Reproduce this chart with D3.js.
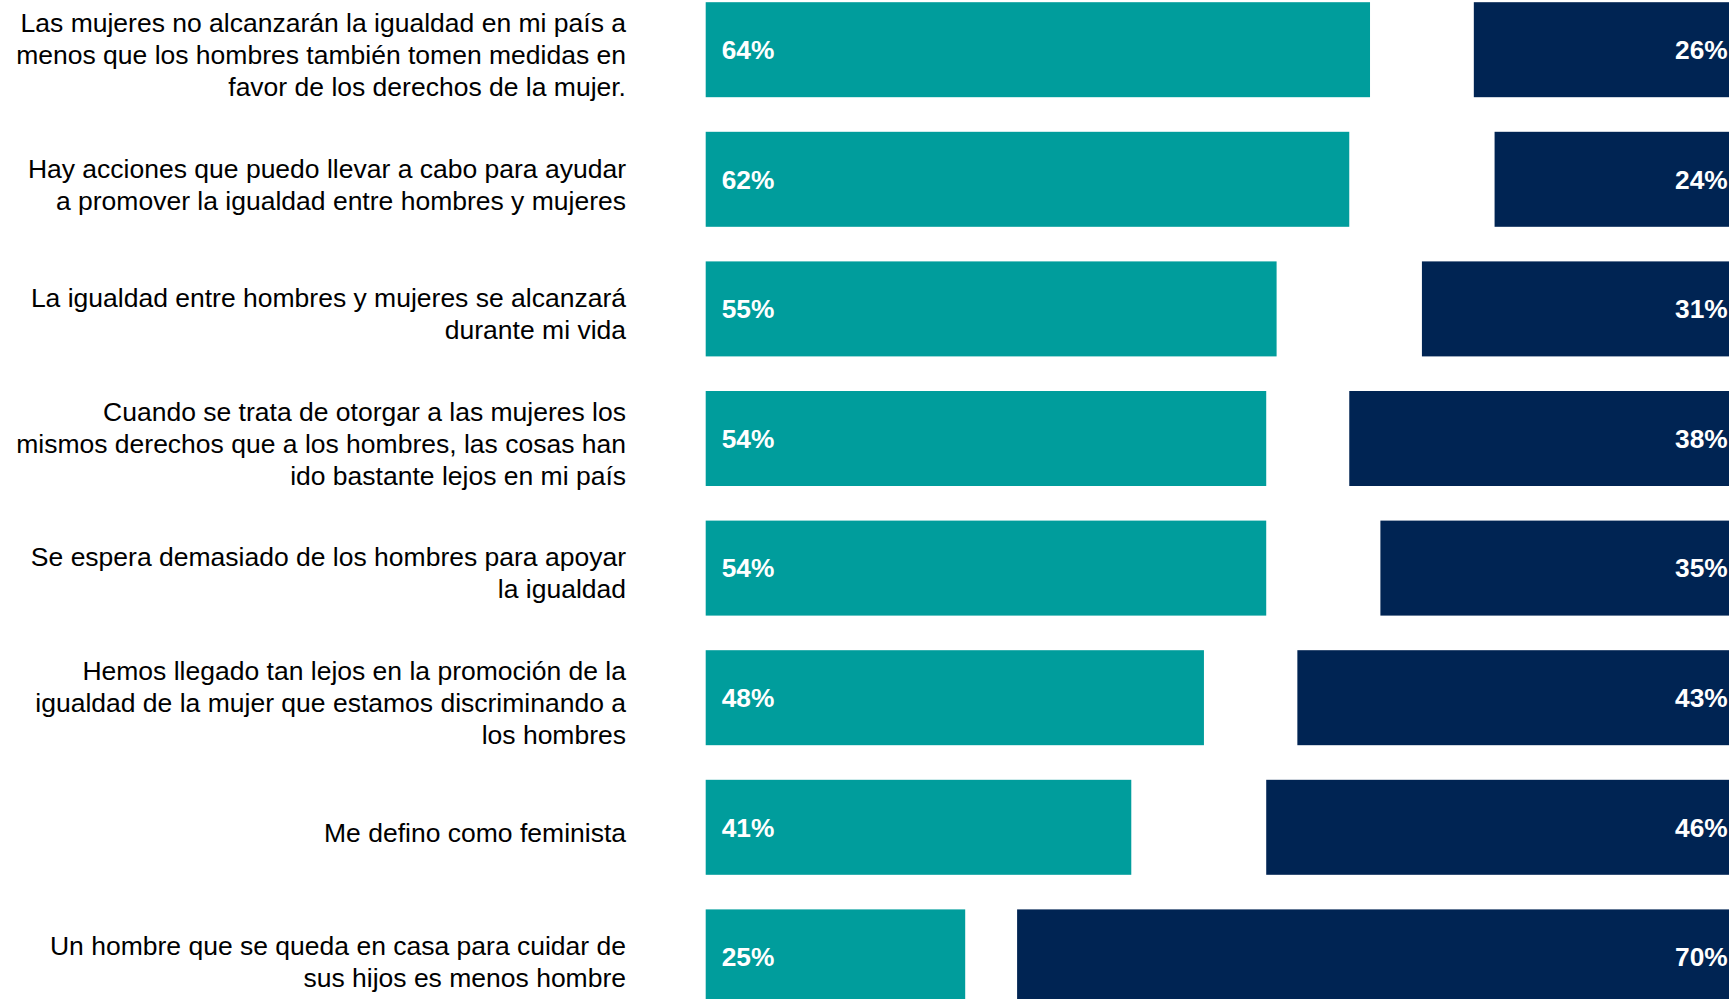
<!DOCTYPE html>
<html>
<head>
<meta charset="utf-8">
<script src="https://cdn.jsdelivr.net/npm/d3@7/dist/d3.min.js"></script>
<style>
  html, body { margin: 0; padding: 0; background: #ffffff; overflow: hidden; }
  svg { display: block; }
</style>
</head>
<body>
<svg id="chart" width="1729" height="999"></svg>
<script>
// ---- Data ----
const categories = [
  ["Las mujeres no alcanzarán la igualdad en mi país a", "menos que los hombres también tomen medidas en", "favor de los derechos de la mujer."],
  ["Hay acciones que puedo llevar a cabo para ayudar", "a promover la igualdad entre hombres y mujeres"],
  ["La igualdad entre hombres y mujeres se alcanzará", "durante mi vida"],
  ["Cuando se trata de otorgar a las mujeres los", "mismos derechos que a los hombres, las cosas han", "ido bastante lejos en mi país"],
  ["Se espera demasiado de los hombres para apoyar", "la igualdad"],
  ["Hemos llegado tan lejos en la promoción de la", "igualdad de la mujer que estamos discriminando a", "los hombres"],
  ["Me defino como feminista"],
  ["Un hombre que se queda en casa para cuidar de", "sus hijos es menos hombre"]
];
const agreeValues = [64, 62, 55, 54, 54, 48, 41, 25];
const disagreeValues = [26, 24, 31, 38, 35, 43, 46, 70];

// ---- Layout ----
const svg = d3.select("#chart");
const teal = "#009d9c";
const navy = "#002453";
const idx = categories.map((d, i) => i);

const x = d3.scaleLinear().domain([0, 100]).range([705.7, 1743.7]);
const step = 129.6;
const y = d3.scaleBand()
  .domain(idx)
  .range([2.2 - 0.1335 * step, 2.2 - 0.1335 * step + 8 * step])
  .paddingInner(0.267)
  .paddingOuter(0.1335);

const rows = svg.append("g").selectAll("g.row")
  .data(idx).join("g").attr("class", "row");

// agree bars (left-anchored)
rows.append("rect")
  .attr("x", x(0))
  .attr("y", i => y(i))
  .attr("width", i => x(agreeValues[i]) - x(0))
  .attr("height", y.bandwidth())
  .attr("fill", teal);

// disagree bars (right-anchored at 100)
rows.append("rect")
  .attr("x", i => x(100 - disagreeValues[i]))
  .attr("y", i => y(i))
  .attr("width", i => x(100) - x(100 - disagreeValues[i]))
  .attr("height", y.bandwidth())
  .attr("fill", navy);

const labelFont = "'Liberation Sans', Arial, Helvetica, sans-serif";

// agree value labels
rows.append("text")
  .attr("x", x(0) + 16)
  .attr("y", i => y(i) + y.bandwidth() / 2)
  .attr("dy", "0.35em")
  .attr("fill", "#ffffff")
  .attr("font-family", labelFont)
  .attr("font-weight", "bold")
  .attr("font-size", 26.3)
  .text(i => agreeValues[i] + "%");

// disagree value labels
rows.append("text")
  .attr("x", x(100) - 16)
  .attr("y", i => y(i) + y.bandwidth() / 2)
  .attr("dy", "0.35em")
  .attr("text-anchor", "end")
  .attr("fill", "#ffffff")
  .attr("font-family", labelFont)
  .attr("font-weight", "bold")
  .attr("font-size", 26.3)
  .text(i => disagreeValues[i] + "%");

// category labels
const lineH = 32;
const cat = rows.append("text")
  .attr("text-anchor", "end")
  .attr("fill", "#000000")
  .attr("font-family", labelFont)
  .attr("font-size", 26.5);

cat.each(function(i) {
  const lines = categories[i];
  const cy = y(i) + y.bandwidth() / 2 + 5;
  const first = cy - (lines.length - 1) * lineH / 2;
  d3.select(this).selectAll("tspan").data(lines).join("tspan")
    .attr("x", 626)
    .attr("y", (d, k) => first + k * lineH)
    .attr("dy", "0.35em")
    .text(d => d);
});
</script>
</body>
</html>
